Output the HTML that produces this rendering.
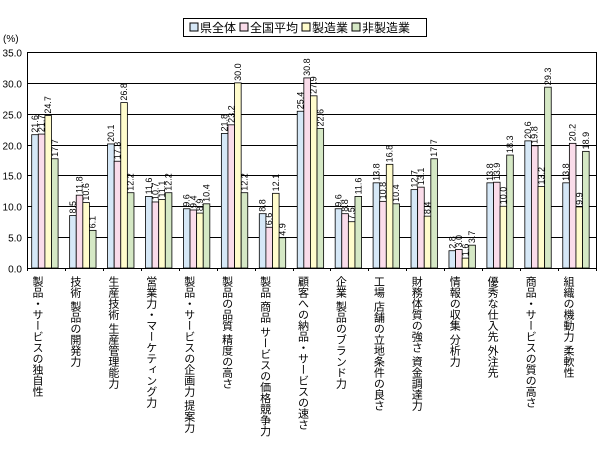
<!DOCTYPE html>
<html><head><meta charset="utf-8"><style>
body{margin:0;background:#fff;width:613px;height:455px;overflow:hidden;font-family:"Liberation Sans","Noto Sans CJK JP",sans-serif;}
svg text{font-family:"Liberation Sans","Noto Sans CJK JP",sans-serif;}
</style></head><body>
<svg id="chart" width="613" height="455" viewBox="0 0 613 455" xmlns="http://www.w3.org/2000/svg">
<g id="grid"></g><g id="bars"></g><g id="labels"></g><g id="cats"></g>
<g>
<rect x="183.5" y="18.5" width="243" height="18" fill="#fff" stroke="#000"/>
<rect x="190" y="23" width="8" height="8" fill="#d6e8f7" stroke="#000"/><text x="200" y="32" font-size="12">県全体</text>
<rect x="240" y="23" width="8" height="8" fill="#fadcea" stroke="#000"/><text x="250" y="32" font-size="12">全国平均</text>
<rect x="302" y="23" width="8" height="8" fill="#fffccc" stroke="#000"/><text x="312" y="32" font-size="12">製造業</text>
<rect x="352" y="23" width="8" height="8" fill="#d5e8c5" stroke="#000"/><text x="362" y="32" font-size="12">非製造業</text>
</g>
<text x="3" y="42" font-size="10">(%)</text>
</svg>
<script>
const categories=["製品・サービスの独自性","技術 製品の開発力","生産技術 生産管理能力","営業力・マーケティング力","製品・サービスの企画力 提案力","製品の品質 精度の高さ","製品 商品 サービスの価格競争力","顧客への納品・サービスの速さ","企業 製品のブランド力","工場 店舗の立地条件の良さ","財務体質の強さ 資金調達力","情報の収集 分析力","優秀な仕入先 外注先","商品・サービスの質の高さ","組織の機動力 柔軟性"];
const prefTotal=[21.6,8.5,20.1,11.6,9.6,21.8,8.8,25.4,9.6,13.8,12.7,2.8,13.8,20.6,13.8];
const national=[21.7,11.8,17.3,10.7,9.4,23.2,6.6,30.8,8.8,10.8,13.1,3.0,13.9,19.8,20.2];
const manufacturing=[24.7,10.6,26.8,11.1,8.9,30.0,12.1,27.9,7.5,16.8,8.4,1.6,10.0,13.2,9.9];
const nonManufacturing=[17.7,6.1,12.2,12.2,10.4,12.2,4.9,22.6,11.6,10.4,17.7,3.7,18.3,29.3,18.9];
const yTicks=["0.0","5.0","10.0","15.0","20.0","25.0","30.0","35.0"];
const series=[prefTotal,national,manufacturing,nonManufacturing];
const seriesNames=["pref-total","national","manufacturing","non-manufacturing"];
const colors=["#d6e8f7","#fadcea","#fffccc","#d5e8c5"];
const NS="http://www.w3.org/2000/svg";
const X0=27,X1=596,Y0=268,Y1=52,YMAX=35;
const gw=(X1-X0)/categories.length,bw=6.6,off=4.7;
const y=v=>Y0-(v/YMAX)*(Y0-Y1);
const xg=i=>X0+i*gw;
function mk(tag,attrs,parent){const e=document.createElementNS(NS,tag);for(const k in attrs)e.setAttribute(k,attrs[k]);parent.appendChild(e);return e;}
const grid=document.getElementById('grid');
yTicks.forEach((t,i)=>{const v=parseFloat(t),yy=Math.round(y(v))+0.5;
 const l=mk('line',{x1:X0,x2:X1,y1:yy,y2:yy,stroke:'#000','stroke-width':1},grid);
 
 
 const tk=mk('text',{x:22,y:yy+4,'font-size':10,'text-anchor':'end'},grid);tk.textContent=t;
 
 
});
mk('line',{x1:X0+0.5,x2:X0+0.5,y1:Y1,y2:Y0,stroke:'#000'},grid);
mk('line',{x1:X1+0.5,x2:X1+0.5,y1:Y1,y2:Y0,stroke:'#000'},grid);
for(let i=0;i<=categories.length;i++){mk('line',{x1:Math.round(xg(i))+0.5,x2:Math.round(xg(i))+0.5,y1:Y0,y2:Y0+3,stroke:'#000'},grid);}
const bars=document.getElementById('bars'),labels=document.getElementById('labels'),cats=document.getElementById('cats');
categories.forEach((c,i)=>{
 series.forEach((s,j)=>{
  const v=s[i],bx=xg(i)+off+j*bw,by=y(v);
  const r=mk('rect',{x:bx,y:by,width:bw,height:Y0-by,fill:colors[j],stroke:'#000','stroke-width':0.8},bars);
  
  
  const tx=bx+bw/2+3,ty=by-2;
  const t=mk('text',{x:tx,y:ty,'font-size':9,transform:`rotate(-90 ${tx} ${ty})`},labels);
  t.textContent=v.toFixed(1);
  
  
 });
 const cx=xg(i)+gw/2-9;
 const ct=mk('text',{x:cx,y:276,'font-size':11},cats);
 ct.setAttribute('style','writing-mode:vertical-rl;letter-spacing:0px');
 ct.textContent=c;
 
 
});
</script>
</body></html>
